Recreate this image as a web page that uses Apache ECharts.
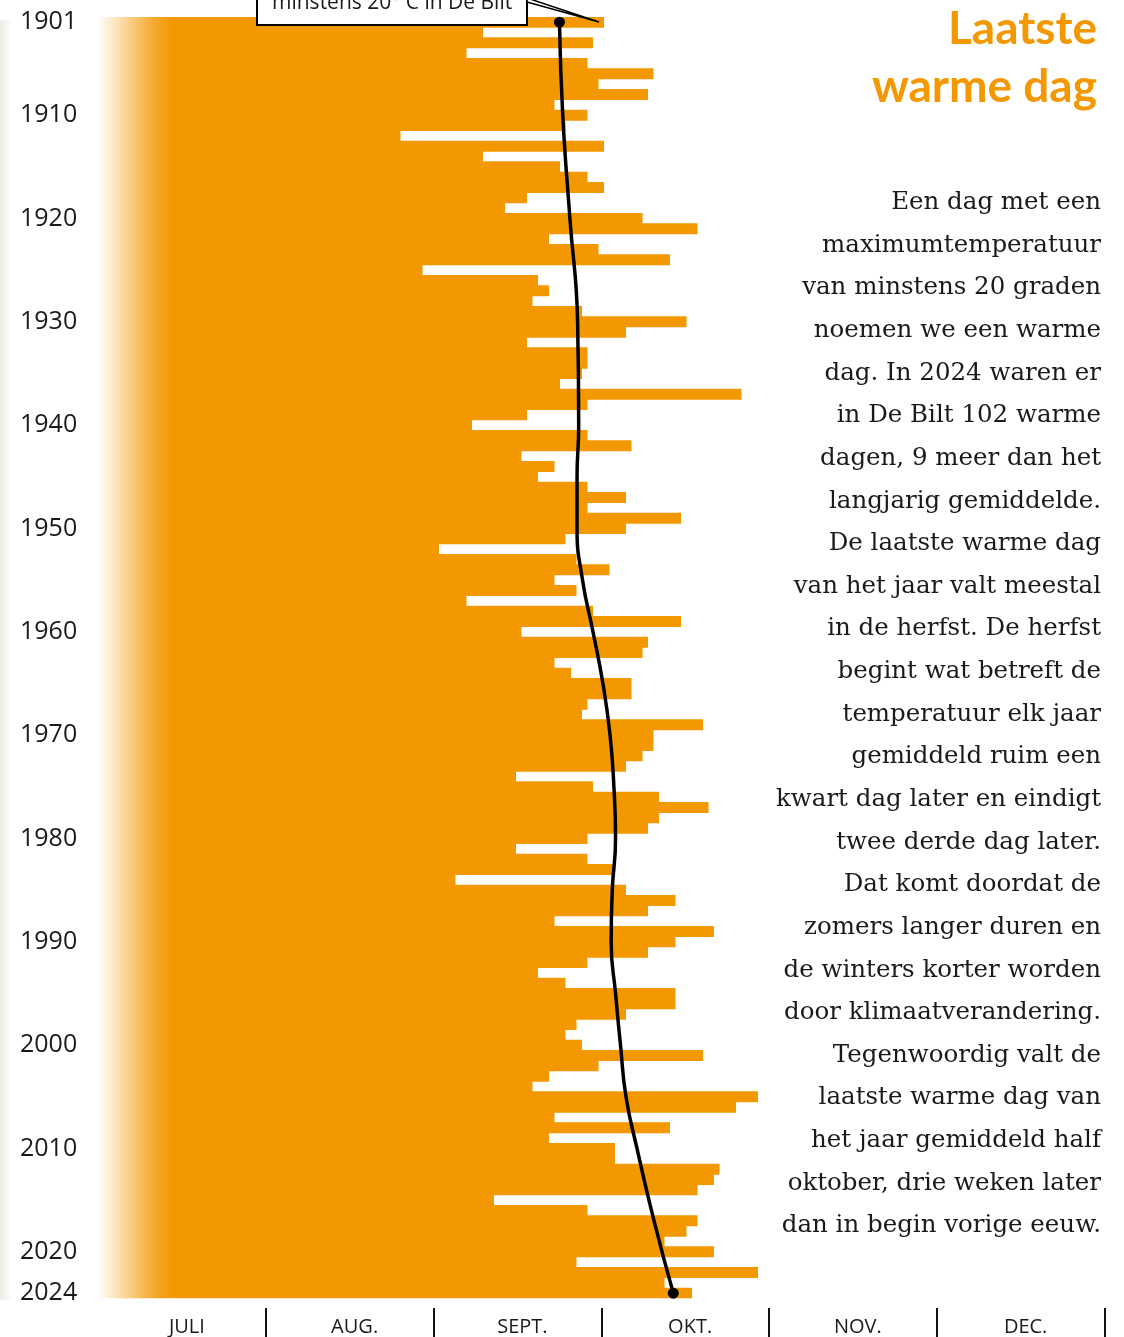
<!DOCTYPE html>
<html>
    <head>
        <meta charset="utf-8">
        <title>Laatste warme dag</title>
        <script src="https://cdn.jsdelivr.net/npm/echarts@6/dist/echarts.min.js"></script>
        <style>
            html, body { margin: 0; padding: 0; background: #fff; }
            #chart1 { width: 1124px; height: 1337px; }
        </style>
    </head>
    <body>
        <div id="chart1"></div>
    </body>
    <script type="text/javascript">
        // jaren 1901 t/m 2024
        var years = [];
        for (var y = 1901; y <= 2024; y++) years.push(String(y));

        // laatste warme dag, als dagnummer vanaf 1 juli (1 juli = 1)
        var lastWarmDay = [
            92, 70, 90, 67, 89, 101, 91, 100, 83, 89,
            85, 55, 92, 70, 84, 89, 92, 78, 74, 99,
            109, 82, 91, 104, 59, 80, 82, 79, 88, 107,
            96, 78, 89, 89, 88, 84, 117, 89, 78, 68,
            89, 97, 77, 83, 80, 89, 96, 89, 106, 96,
            85, 62, 87, 93, 83, 87, 67, 90, 106, 77,
            100, 99, 83, 86, 97, 97, 89, 88, 110, 101,
            101, 99, 96, 76, 90, 102, 111, 102, 100, 89,
            76, 89, 94, 65, 96, 105, 100, 83, 112, 105,
            100, 89, 80, 85, 105, 105, 96, 87, 85, 88,
            110, 91, 82, 79, 120, 116, 83, 104, 82, 94,
            94, 113, 112, 109, 72, 89, 109, 107, 103, 112,
            87, 120, 103, 108
        ];

        var trendYears = ['1901', '1910', '1920', '1930', '1940', '1945', '1950', '1955', '1960',
            '1965', '1970', '1975', '1980', '1985', '1990', '1995', '2000', '2005', '2010',
            '2017', '2024'];
        var trendDays = [83.9, 84.5, 85.8, 87.2, 87.4, 87.1, 87.1, 88.1, 90.0,
            91.8, 93.1, 93.8, 94.1, 93.5, 93.3, 94.1, 95.0, 96.0, 98.0,
            101.1, 104.6];

        var months = ['JULI', 'AUG.', 'SEPT.', 'OKT.', 'NOV.', 'DEC.'];
        var yearLabels = ['1901', '1910', '1920', '1930', '1940', '1950', '1960', '1970',
            '1980', '1990', '2000', '2010', '2020', '2024'];

        var tekst = [
            'Een dag met een',
            'maximumtemperatuur',
            'van minstens 20 graden',
            'noemen we een warme',
            'dag. In 2024 waren er',
            'in De Bilt 102 warme',
            'dagen, 9 meer dan het',
            'langjarig gemiddelde.',
            'De laatste warme dag',
            'van het jaar valt meestal',
            'in de herfst. De herfst',
            'begint wat betreft de',
            'temperatuur elk jaar',
            'gemiddeld ruim een',
            'kwart dag later en eindigt',
            'twee derde dag later.',
            'Dat komt doordat de',
            'zomers langer duren en',
            'de winters korter worden',
            'door klimaatverandering.',
            'Tegenwoordig valt de',
            'laatste warme dag van',
            'het jaar gemiddeld half',
            'oktober, drie weken later',
            'dan in begin vorige eeuw.'
        ];

        var oranje = '#f39800';
        var myChart = echarts.init(document.getElementById('chart1'), null, { renderer: 'canvas' });

        var trendData = [];
        for (var i = 0; i < trendYears.length; i++) {
            trendData.push([trendDays[i], trendYears[i]]);
        }

        var option = {
            backgroundColor: '#ffffff',
            animation: false,
            grid: [
                { left: 98, top: 17, width: 1006.5, height: 1281.3 },
                { left: 98, top: 1308, width: 1006.5, height: 29 }
            ],
            xAxis: [
                { type: 'value', gridIndex: 0, min: 0, max: 183, show: false },
                {
                    type: 'category', gridIndex: 1, position: 'top', data: months,
                    axisLine: { show: false }, axisTick: { show: false },
                    axisLabel: {
                        inside: true, margin: 9, padding: [0, 0, 0, 10],
                        fontFamily: 'Open Sans', fontSize: 20, color: '#1a1a1a'
                    },
                    splitLine: { show: true, showMinLine: false, showMaxLine: true, lineStyle: { color: '#111', width: 2 } }
                }
            ],
            yAxis: [
                {
                    type: 'category', gridIndex: 0, data: years, inverse: true,
                    axisLine: { show: false }, axisTick: { show: false },
                    axisLabel: {
                        interval: 0, align: 'left', margin: 78,
                        fontFamily: 'Open Sans', fontSize: 25, color: '#1a1a1a',
                        formatter: function (v) { return yearLabels.indexOf(v) >= 0 ? v : ''; }
                    }
                },
                { type: 'value', gridIndex: 1, show: false }
            ],
            series: [
                {
                    type: 'bar', xAxisIndex: 0, yAxisIndex: 0,
                    data: lastWarmDay, barWidth: 11,
                    itemStyle: {
                        color: new echarts.graphic.LinearGradient(98, 0, 172, 0, [
                            { offset: 0, color: '#ffffff' },
                            { offset: 0.25, color: '#fce3b9' },
                            { offset: 0.5, color: '#f8c571' },
                            { offset: 0.75, color: '#f5aa32' },
                            { offset: 1, color: oranje }
                        ], true)
                    },
                    silent: true
                },
                {
                    type: 'line', xAxisIndex: 0, yAxisIndex: 0,
                    data: trendData, smooth: 0.5,
                    symbol: 'circle', showAllSymbol: true,
                    symbolSize: function (val, params) {
                        return (params.dataIndex === 0 || params.dataIndex === trendData.length - 1) ? 11 : 0;
                    },
                    lineStyle: { color: '#000', width: 3.5 },
                    itemStyle: { color: '#000' },
                    z: 5, silent: true
                }
            ],
            graphic: [
                {
                    type: 'rect', left: 0, top: 20, z: 1,
                    shape: { width: 12, height: 1280 },
                    style: { fill: new echarts.graphic.LinearGradient(0, 0, 1, 0, [
                        { offset: 0, color: '#e8eee2' }, { offset: 1, color: '#ffffff' }
                    ]) }
                },
                {
                    type: 'text', z: 10,
                    style: {
                        text: 'Laatste\nwarme dag', x: 1097, y: 0,
                        align: 'right', verticalAlign: 'top', lineHeight: 58,
                        font: 'bold 46px Lato', fill: oranje
                    }
                },
                {
                    type: 'text', z: 10,
                    style: {
                        text: tekst.join('\n'), x: 1101, y: 181.5,
                        align: 'right', verticalAlign: 'top', lineHeight: 42.63,
                        font: '24.5px "DejaVu Serif"', fill: '#1a1a1a'
                    }
                },
                {
                    type: 'rect', z: 20,
                    shape: { x: 257, y: -40, width: 270, height: 65 },
                    style: { fill: '#fff', stroke: '#000', lineWidth: 2 }
                },
                {
                    type: 'polygon', z: 20,
                    shape: { points: [[527, 2], [599, 22], [530, -1], [527, -1]] },
                    style: { fill: '#fff', stroke: '#000', lineWidth: 1.5 }
                },
                {
                    type: 'text', z: 21,
                    style: {
                        text: 'minstens 20° C in De Bilt', x: 272, y: 14,
                        align: 'left', verticalAlign: 'bottom',
                        font: '21px "Open Sans"', fill: '#1a1a1a'
                    }
                }
            ]
        };

        myChart.setOption(option);
    </script>
</html>
